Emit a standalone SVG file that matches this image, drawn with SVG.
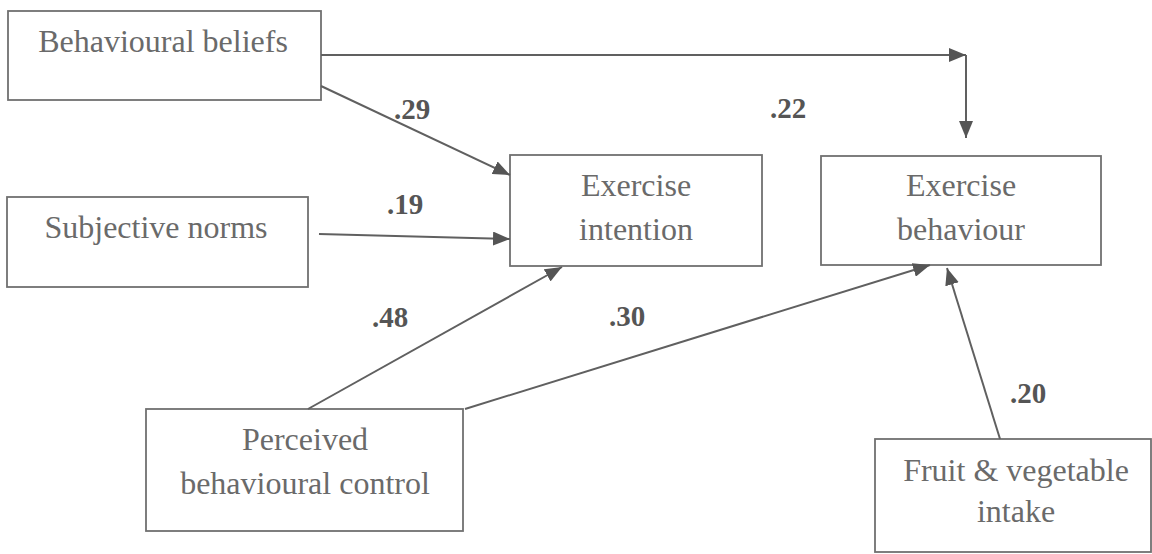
<svg xmlns="http://www.w3.org/2000/svg" width="1152" height="554" viewBox="0 0 1152 554">
  <style>
    .box { fill: #ffffff; stroke: #707070; stroke-width: 1.8; }
    .lbl { font-family: "Liberation Serif", "Times New Roman", serif; font-size: 32px; fill: #6a6a6a; text-anchor: middle; }
    .coef { font-family: "Liberation Serif", "Times New Roman", serif; font-size: 29px; font-weight: bold; fill: #555555; }
    .edge { fill: none; stroke: #606060; stroke-width: 2; }
  </style>
  <defs>
    <marker id="arrow" markerUnits="userSpaceOnUse" markerWidth="18" markerHeight="14" refX="17" refY="7" orient="auto">
      <path d="M0,0 L17,7 L0,14 z" fill="#555555"/>
    </marker>
  </defs>
  <rect width="1152" height="554" fill="#ffffff"/>

  <g id="behavioural-beliefs">
    <rect class="box" x="8" y="11" width="313" height="89"/>
    <text class="lbl" x="163" y="52">Behavioural beliefs</text>
  </g>
  <g id="subjective-norms">
    <rect class="box" x="7" y="197" width="301" height="90"/>
    <text class="lbl" x="156" y="238">Subjective norms</text>
  </g>
  <g id="exercise-intention">
    <rect class="box" x="510" y="155" width="252" height="111"/>
    <text class="lbl" x="636" y="196">Exercise</text>
    <text class="lbl" x="636" y="240">intention</text>
  </g>
  <g id="exercise-behaviour">
    <rect class="box" x="821" y="156" width="280" height="109"/>
    <text class="lbl" x="961" y="196">Exercise</text>
    <text class="lbl" x="961" y="240">behaviour</text>
  </g>
  <g id="perceived-behavioural-control">
    <rect class="box" x="146" y="409" width="317" height="122"/>
    <text class="lbl" x="305" y="450">Perceived</text>
    <text class="lbl" x="305" y="494">behavioural control</text>
  </g>
  <g id="fruit-vegetable-intake">
    <rect class="box" x="875" y="439" width="276" height="113"/>
    <text class="lbl" x="1016" y="481">Fruit &amp; vegetable</text>
    <text class="lbl" x="1016" y="522">intake</text>
  </g>

  <g id="connectors">
    <path class="edge" d="M321,55 H966" marker-end="url(#arrow)"/>
    <path class="edge" d="M966,55 V138" marker-end="url(#arrow)"/>
    <path class="edge" d="M321,86 L510,175" marker-end="url(#arrow)"/>
    <path class="edge" d="M319,234 L510,239" marker-end="url(#arrow)"/>
    <path class="edge" d="M308,409 L562,267" marker-end="url(#arrow)"/>
    <path class="edge" d="M465,409 L930,265" marker-end="url(#arrow)"/>
    <path class="edge" d="M1000,439 L947,268" marker-end="url(#arrow)"/>
  </g>

  <g id="coefficients">
    <text class="coef" x="394" y="119">.29</text>
    <text class="coef" x="770" y="118">.22</text>
    <text class="coef" x="387" y="214">.19</text>
    <text class="coef" x="372" y="327">.48</text>
    <text class="coef" x="609" y="326">.30</text>
    <text class="coef" x="1010" y="403">.20</text>
  </g>
</svg>
